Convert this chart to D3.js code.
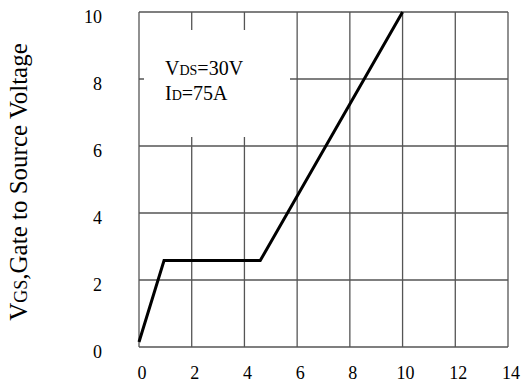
<!DOCTYPE html>
<html>
<head>
<meta charset="utf-8">
<script src="https://cdn.jsdelivr.net/npm/d3@7"></script>
</head>
<body style="margin:0">
<svg id="chart" width="523" height="382"></svg>
<script>
// gate charge curve: x = Qg (nC), y = VGS (V)
let qg = [0, 0.95, 4.6, 10];
let vgs = [0.15, 2.58, 2.58, 10];
let xTicks = [0, 2, 4, 6, 8, 10, 12, 14];
let yTicks = [0, 2, 4, 6, 8, 10];

let ancho = 523, alto = 382;
let margin = { top: 12, right: 15, bottom: 35, left: 139 };
let w = ancho - margin.left - margin.right;
let h = alto - margin.top - margin.bottom;

let fuente = "'Liberation Serif'";

let svg = d3.select("#chart");
let g = svg.append("g").attr("transform", "translate(" + margin.left + "," + margin.top + ")");

let x = d3.scaleLinear().domain([0, 14]).range([0, w]);
let y = d3.scaleLinear().domain([0, 10]).range([h, 0]);

let gridColor = "#555";

// grid
g.selectAll(".vgrid").data(xTicks).enter().append("line")
  .attr("x1", d => x(d)).attr("x2", d => x(d))
  .attr("y1", 0).attr("y2", h)
  .attr("stroke", gridColor).attr("stroke-width", 1.3);
g.selectAll(".hgrid").data(yTicks).enter().append("line")
  .attr("x1", 0).attr("x2", w)
  .attr("y1", d => y(d)).attr("y2", d => y(d))
  .attr("stroke", gridColor).attr("stroke-width", 1.3);

// white box behind the conditions text
g.append("rect")
  .attr("x", 5).attr("y", 18)
  .attr("width", 146).attr("height", 107)
  .attr("fill", "#fff");

// tick labels
g.selectAll(".xlab").data(xTicks).enter().append("text")
  .attr("x", d => x(d) + 3).attr("y", h + 32)
  .attr("text-anchor", "middle")
  .style("font-family", fuente)
  .style("font-size", "18px")
  .text(d => d);
g.selectAll(".ylab").data(yTicks).enter().append("text")
  .attr("x", -37).attr("y", d => y(d) + 11)
  .attr("text-anchor", "end")
  .style("font-family", fuente)
  .style("font-size", "18px")
  .text(d => d);

// curve
let linea = d3.line().x(d => x(d[0])).y(d => y(d[1]));
g.append("path")
  .datum(d3.zip(qg, vgs))
  .attr("d", linea)
  .attr("fill", "none")
  .attr("stroke", "#000")
  .attr("stroke-width", 3)
  .attr("stroke-linejoin", "miter");

// conditions
let t1 = g.append("text").attr("x", 26).attr("y", 63)
  .style("font-family", fuente).style("font-size", "20px");
t1.append("tspan").text("V");
t1.append("tspan").style("font-size", "14px").text("DS");
t1.append("tspan").text("=30V");
let t2 = g.append("text").attr("x", 26).attr("y", 88)
  .style("font-family", fuente).style("font-size", "20px");
t2.append("tspan").text("I");
t2.append("tspan").style("font-size", "14px").text("D");
t2.append("tspan").text("=75A");

// y title
let yt = svg.append("text")
  .attr("transform", "translate(27,182) rotate(-90)")
  .attr("text-anchor", "middle")
  .style("font-family", fuente)
  .style("font-size", "25px");
yt.append("tspan").text("V");
yt.append("tspan").style("font-size", "18px").text("GS");
yt.append("tspan").text(",Gate to Source Voltage");
</script>
</body>
</html>
